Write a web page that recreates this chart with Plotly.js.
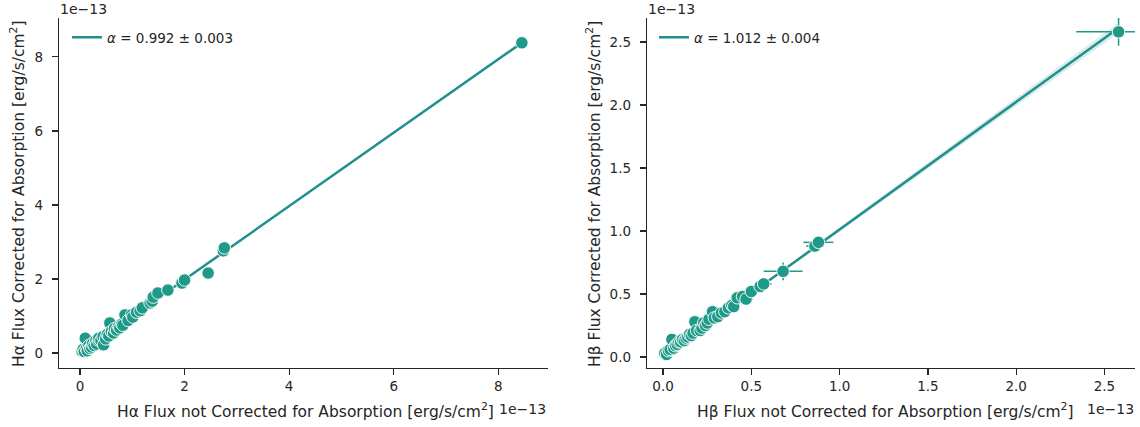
<!DOCTYPE html>
<html>
<head>
<meta charset="utf-8">
<script src="https://cdn.plot.ly/plotly-3.0.1.min.js"></script>
<style>
  html, body { margin: 0; padding: 0; background: #fff; }
  #chart { width: 1140px; height: 427px; }
</style>
</head>
<body>
<div id="chart"></div>
<script>
// Fluxes in units of 1e-13 erg/s/cm^2
// H-alpha: not corrected (x) vs corrected (y) for stellar absorption
const haUncorr = [
  0.04, 0.06, 0.08, 0.10, 0.12, 0.14, 0.17, 0.19, 0.22, 0.24,
  0.27, 0.30, 0.32, 0.35, 0.36, 0.40, 0.44, 0.45, 0.49, 0.52,
  0.55, 0.57, 0.60, 0.64, 0.66, 0.70, 0.74, 0.76, 0.80, 0.82,
  0.86, 0.92, 0.99, 1.01, 1.08, 1.15, 1.19, 1.34, 1.38,
  1.40, 1.49, 1.68, 1.95, 2.00, 2.45, 2.74, 2.76, 8.45
];
const haCorr = [
  0.05, 0.10, 0.04, 0.40, 0.12, 0.06, 0.20, 0.12, 0.16, 0.26,
  0.20, 0.33, 0.24, 0.35, 0.40, 0.34, 0.44, 0.22, 0.38, 0.50,
  0.46, 0.81, 0.58, 0.54, 0.66, 0.62, 0.72, 0.68, 0.78, 0.75,
  1.03, 0.88, 1.03, 0.97, 1.10, 1.14, 1.22, 1.35, 1.40,
  1.51, 1.62, 1.70, 1.89, 1.97, 2.16, 2.76, 2.84, 8.38
];

// H-beta: not corrected (x) vs corrected (y), with measurement errors
const hbUncorr = [
  0.01, 0.02, 0.03, 0.04, 0.05, 0.06, 0.07, 0.08, 0.09, 0.10,
  0.11, 0.12, 0.13, 0.14, 0.15, 0.16, 0.17, 0.18, 0.19, 0.21,
  0.22, 0.23, 0.24, 0.25, 0.26, 0.28, 0.29, 0.31, 0.33, 0.35,
  0.37, 0.39, 0.40, 0.42, 0.45, 0.47, 0.50, 0.55, 0.57, 0.68,
  0.86, 0.88, 2.58
];
const hbCorr = [
  0.03, 0.02, 0.05, 0.06, 0.14, 0.07, 0.09, 0.10, 0.12, 0.12,
  0.14, 0.13, 0.15, 0.16, 0.18, 0.17, 0.19, 0.28, 0.21, 0.21,
  0.23, 0.27, 0.25, 0.27, 0.30, 0.36, 0.31, 0.32, 0.35, 0.36,
  0.39, 0.41, 0.40, 0.47, 0.48, 0.46, 0.52, 0.56, 0.58, 0.68,
  0.88, 0.91, 2.58
];
const hbUncorrErr = [
  0.01, 0.01, 0.01, 0.01, 0.02, 0.01, 0.01, 0.02, 0.01, 0.02,
  0.01, 0.02, 0.02, 0.01, 0.02, 0.02, 0.02, 0.02, 0.02, 0.03,
  0.02, 0.02, 0.03, 0.02, 0.03, 0.03, 0.02, 0.03, 0.03, 0.03,
  0.03, 0.04, 0.03, 0.03, 0.04, 0.04, 0.04, 0.04, 0.045, 0.11,
  0.05, 0.085, 0.24
];
const hbCorrErr = [
  0.01, 0.01, 0.01, 0.01, 0.02, 0.01, 0.01, 0.01, 0.01, 0.02,
  0.01, 0.01, 0.02, 0.01, 0.02, 0.01, 0.02, 0.02, 0.02, 0.02,
  0.02, 0.02, 0.02, 0.02, 0.03, 0.03, 0.02, 0.03, 0.03, 0.03,
  0.03, 0.03, 0.03, 0.03, 0.04, 0.03, 0.03, 0.04, 0.045, 0.07,
  0.03, 0.04, 0.11
];

// Slopes of the through-origin fits and their uncertainties
const haSlope = 0.992, haSlopeErr = 0.003;
const hbSlope = 1.012, hbSlopeErr = 0.004;
// width of the shaded band, in units of the slope uncertainty
const haBandSigma = 2, hbBandSigma = 4;

const tickLabelsHa = ['0', '2', '4', '6', '8'];
const tickValsHa = [0, 2, 4, 6, 8];
const tickValsHb = [0, 0.5, 1.0, 1.5, 2.0, 2.5];
const tickLabelsHb = ['0.0', '0.5', '1.0', '1.5', '2.0', '2.5'];

const markerColor = '#1f9a89';
const lineColor = '#21908c';
const bandColor = 'rgba(33,144,140,0.17)';
const ink = '#262626';
const FONT = 'DejaVu Sans, sans-serif';

function fitTraces(xs, slope, err, k, xa, ya, legendId, label) {
  const x0 = Math.min(...xs), x1 = Math.max(...xs);
  const lo = slope - k * err, hi = slope + k * err;
  return [
    { x: [x0, x1, x1, x0, x0], y: [x0 * lo, x1 * lo, x1 * hi, x0 * hi, x0 * lo],
      xaxis: xa, yaxis: ya, mode: 'lines', fill: 'toself', fillcolor: bandColor,
      line: { width: 0, color: bandColor }, hoverinfo: 'skip', showlegend: false },
    { x: [x0, x1], y: [x0 * slope, x1 * slope], xaxis: xa, yaxis: ya,
      mode: 'lines', line: { color: lineColor, width: 2.5 },
      name: label, legend: legendId, showlegend: true }
  ];
}

const markerStyle = { size: 12.5, color: markerColor, line: { color: '#ffffff', width: 0.9 } };

const traces = [
  ...fitTraces(haUncorr, haSlope, haSlopeErr, haBandSigma, 'x', 'y', 'legend',
    '<i>α</i> = ' + haSlope.toFixed(3) + ' ± ' + haSlopeErr.toFixed(3)),
  { x: haUncorr, y: haCorr, xaxis: 'x', yaxis: 'y', mode: 'markers', showlegend: false,
    marker: markerStyle },
  ...fitTraces(hbUncorr, hbSlope, hbSlopeErr, hbBandSigma, 'x2', 'y2', 'legend2',
    '<i>α</i> = ' + hbSlope.toFixed(3) + ' ± ' + hbSlopeErr.toFixed(3)),
  { x: hbUncorr, y: hbCorr, xaxis: 'x2', yaxis: 'y2', mode: 'markers', showlegend: false,
    error_x: { type: 'data', array: hbUncorrErr, color: markerColor, thickness: 1.5, width: 0 },
    error_y: { type: 'data', array: hbCorrErr, color: markerColor, thickness: 1.5, width: 0 },
    marker: markerStyle }
];

const W = 1140, H = 427;
const px = v => v / W;
const py = v => 1 - v / H;

const axisCommon = {
  showgrid: false, zeroline: false, showline: true, linecolor: ink, linewidth: 1.25,
  ticks: 'outside', ticklen: 6, tickwidth: 1.25, tickcolor: ink,
  tickfont: { family: FONT, size: 13.5, color: ink }, mirror: false
};
const yAxisCommon = { ...axisCommon, ticklabelstandoff: 6 };

function label(text, x, y, opts) {
  return Object.assign({ text, xref: 'paper', yref: 'paper', x: px(x), y: py(y),
    xanchor: 'center', yanchor: 'middle', showarrow: false,
    font: { family: FONT, size: 15.5, color: ink } }, opts || {});
}

const legendStyle = { xanchor: 'left', yanchor: 'top', bgcolor: 'rgba(0,0,0,0)',
  font: { family: FONT, size: 13.5, color: ink } };

const offsetFont = { family: FONT, size: 14, color: ink };

const layout = {
  width: W, height: H,
  margin: { l: 0, r: 0, t: 0, b: 0 },
  paper_bgcolor: '#fff', plot_bgcolor: '#fff',
  font: { family: FONT, color: ink },
  xaxis: { ...axisCommon, domain: [px(59), px(548)], range: [-0.402, 8.95],
    tickvals: tickValsHa, ticktext: tickLabelsHa, anchor: 'y' },
  yaxis: { ...yAxisCommon, domain: [py(368), py(18)], range: [-0.405, 9.05],
    tickvals: tickValsHa, ticktext: tickLabelsHa, anchor: 'x' },
  xaxis2: { ...axisCommon, domain: [px(647), px(1135)], range: [-0.091, 2.673],
    tickvals: tickValsHb, ticktext: tickLabelsHb, anchor: 'y2' },
  yaxis2: { ...yAxisCommon, domain: [py(368), py(18)], range: [-0.087, 2.69],
    tickvals: tickValsHb, ticktext: tickLabelsHb, anchor: 'x2' },
  legend: { ...legendStyle, x: px(67), y: py(22) },
  legend2: { ...legendStyle, x: px(654), y: py(22) },
  annotations: [
    label('Hα Flux not Corrected for Absorption [erg/s/cm<sup>2</sup>]', 305, 410),
    label('Hα Flux Corrected for Absorption [erg/s/cm<sup>2</sup>]', 17, 194, { textangle: -90 }),
    label('Hβ Flux not Corrected for Absorption [erg/s/cm<sup>2</sup>]', 885, 410),
    label('Hβ Flux Corrected for Absorption [erg/s/cm<sup>2</sup>]', 593, 194, { textangle: -90 }),
    label('1e−13', 58, 9, { xanchor: 'left', font: offsetFont }),
    label('1e−13', 548, 409, { xanchor: 'right', font: offsetFont }),
    label('1e−13', 646, 9, { xanchor: 'left', font: offsetFont }),
    label('1e−13', 1136, 409, { xanchor: 'right', font: offsetFont })
  ]
};

Plotly.newPlot('chart', traces, layout, { displayModeBar: false, staticPlot: true });
</script>
</body>
</html>
